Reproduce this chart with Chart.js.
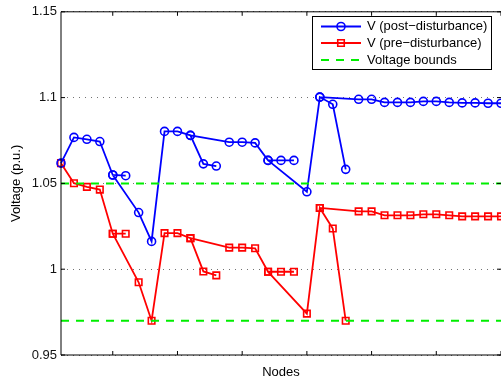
<!DOCTYPE html>
<html>
<head>
<meta charset="utf-8">
<script src="https://cdn.jsdelivr.net/npm/chart.js@4/dist/chart.umd.min.js"></script>
<style>
html,body{margin:0;padding:0;background:#fff;overflow:hidden;}
#wrap{width:501px;height:383px;position:relative;}
</style>
</head>
<body>
<div id="wrap"><canvas id="c" width="501" height="383"></canvas></div>
<script>
// ---- data ----
const nodes = [1,2,3,4,5,6,7,8,9,10,11,12,13,14,15,16,17,18,19,20,21,22,23,24,25,26,27,28,29,30,31,32,33,34,35];
const vPost = [1.0618,1.0768,1.0757,1.0744,1.0549,1.0545,1.0330,1.0162,1.0803,1.0803,1.0780,1.0614,1.0601,1.0740,1.0740,1.0736,1.0634,1.0634,1.0634,1.0451,1.1003,1.0961,1.0582,1.0990,1.0990,1.0972,1.0972,1.0972,1.0978,1.0978,1.0972,1.0969,1.0969,1.0967,1.0967];
const vPre  = [1.0618,1.0501,1.0480,1.0464,1.0207,1.0207,0.9924,0.9700,1.0210,1.0210,1.0181,0.9987,0.9964,1.0126,1.0126,1.0122,0.9985,0.9985,0.9985,0.9741,1.0357,1.0237,0.9700,1.0337,1.0337,1.0314,1.0314,1.0314,1.0320,1.0320,1.0314,1.0308,1.0308,1.0308,1.0308];
// feeder branches (node paths) drawn as separate line pieces
const branches = [
  [1,2,3,4,5,6],
  [5,7,8,9,10,11,12,13],
  [11,14,15,16,17,18,19],
  [17,20,21,22,23],
  [21,24,25,26,27,28,29,30,31,32,33,34,35]
];
const vBounds = [1.05, 0.97];
const xRange = [1, 35];
const xTickValues = [5,10,15,20,25,30,35];
const yTickValues = [0.95,1.0,1.05,1.1,1.15];
const seriesLabels = ['V (post\u2212disturbance)','V (pre\u2212disturbance)','Voltage bounds'];

function buildPath(values){
  const out = [];
  branches.forEach((br, bi) => {
    if (bi > 0) out.push({x: nodes[br[0]-1], y: null});
    br.forEach(n => out.push({x: nodes[n-1], y: values[n-1]}));
  });
  return out;
}
function buildBounds(){
  const out = [];
  vBounds.forEach((b, i) => {
    if (i > 0) out.push({x: xRange[1], y: null});
    out.push({x: xRange[0], y: b});
    out.push({x: xRange[1], y: b});
  });
  return out;
}

const FONT = 'Liberation Sans, Arial, Helvetica, sans-serif';

const framePlugin = {
  id: 'frame',
  afterDatasetsDraw(chart){
    const {ctx, chartArea:{left,right,top,bottom}, scales:{x,y}} = chart;
    ctx.save();
    ctx.strokeStyle = '#000';
    ctx.lineWidth = 1;
    ctx.setLineDash([]);
    ctx.beginPath();
    ctx.moveTo(left, top); ctx.lineTo(right + 1, top);
    ctx.moveTo(left, top); ctx.lineTo(left, bottom);
    ctx.moveTo(left, bottom); ctx.lineTo(right + 1, bottom);
    ctx.moveTo(right + 1, top); ctx.lineTo(right + 1, bottom);
    const tl = 4;
    x.ticks.forEach(t => {
      const px = x.getPixelForValue(t.value);
      ctx.moveTo(px, bottom); ctx.lineTo(px, bottom - tl);
      ctx.moveTo(px, top); ctx.lineTo(px, top + tl);
    });
    y.ticks.forEach(t => {
      const py = y.getPixelForValue(t.value);
      ctx.moveTo(left, py); ctx.lineTo(left + tl, py);
      ctx.moveTo(right + 1, py); ctx.lineTo(right - tl, py);
    });
    ctx.stroke();
    ctx.restore();
  }
};

const legendPlugin = {
  id: 'boxLegend',
  afterDraw(chart){
    const ctx = chart.ctx;
    const bx = 312.5, by = 16.5, bw = 179, bh = 53;
    ctx.save();
    ctx.fillStyle = '#fff';
    ctx.fillRect(bx, by, bw, bh);
    ctx.strokeStyle = '#000';
    ctx.lineWidth = 1;
    ctx.setLineDash([]);
    ctx.strokeRect(bx, by, bw, bh);
    const rows = [26.5, 43, 60];
    chart.data.datasets.forEach((ds, i) => {
      const yy = rows[i];
      ctx.save();
      ctx.strokeStyle = ds.borderColor;
      ctx.lineWidth = ds.borderWidth;
      ctx.setLineDash(ds.borderDash || []);
      ctx.beginPath();
      ctx.moveTo(321, yy); ctx.lineTo(361, yy);
      ctx.stroke();
      ctx.setLineDash([]);
      if (ds.pointRadius > 0) {
        ctx.lineWidth = ds.pointBorderWidth;
        ctx.strokeStyle = ds.pointBorderColor;
        ctx.beginPath();
        if (ds.pointStyle === 'rect') {
          const s = ds.pointRadius * Math.SQRT1_2;
          ctx.rect(341 - s, yy - s, 2*s, 2*s);
        } else {
          ctx.arc(341, yy, ds.pointRadius, 0, Math.PI*2);
        }
        ctx.stroke();
      }
      ctx.restore();
      ctx.fillStyle = '#000';
      ctx.font = '13px ' + FONT;
      ctx.textBaseline = 'middle';
      ctx.textAlign = 'left';
      ctx.fillText(ds.label, 367, yy);
    });
    ctx.restore();
  }
};

new Chart(document.getElementById('c'), {
  type: 'line',
  data: {
    datasets: [
      {
        label: seriesLabels[0],
        data: buildPath(vPost),
        borderColor: '#0000ff',
        borderWidth: 1.8,
        pointStyle: 'circle',
        pointRadius: 4,
        pointBorderWidth: 1.6,
        pointBorderColor: '#0000ff',
        pointBackgroundColor: 'rgba(0,0,0,0)',
        spanGaps: false,
        clip: false,
        order: 1
      },
      {
        label: seriesLabels[1],
        data: buildPath(vPre),
        borderColor: '#ff0000',
        borderWidth: 1.8,
        pointStyle: 'rect',
        pointRadius: 4.6,
        pointBorderWidth: 1.6,
        pointBorderColor: '#ff0000',
        pointBackgroundColor: 'rgba(0,0,0,0)',
        spanGaps: false,
        clip: false,
        order: 2
      },
      {
        label: seriesLabels[2],
        data: buildBounds(),
        borderColor: '#00ee00',
        borderWidth: 2,
        borderDash: [8, 7],
        pointRadius: 0,
        spanGaps: false,
        order: 0
      }
    ]
  },
  options: {
    responsive: false,
    animation: false,
    devicePixelRatio: 1,
    layout: {autoPadding: false, padding: {top: 9, left: 0, right: 0, bottom: 0}},
    elements: {line: {tension: 0}},
    plugins: {legend: {display: false}, tooltip: {enabled: false}},
    scales: {
      x: {
        type: 'linear',
        min: xRange[0], max: xRange[1],
        afterBuildTicks: s => { s.ticks = xTickValues.map(v => ({value: v})); },
        afterFit: s => { s.height = 28; },
        ticks: {display: false},
        grid: {display: false, drawTicks: false},
        border: {display: false},
        title: {display: true, text: 'Nodes', color: '#000', font: {family: FONT, size: 13}, padding: {top: 0, bottom: 3}}
      },
      y: {
        type: 'linear',
        min: 0.95, max: 1.15,
        afterBuildTicks: s => { s.ticks = yTickValues.map(v => ({value: v})); },
        afterFit: s => { s.width = 61; },
        ticks: {
          color: '#111', padding: 4, font: {family: FONT, size: 13},
          callback: v => String(Math.round(v*100)/100)
        },
        grid: {display: true, drawTicks: false, color: 'rgba(0,0,0,0.55)', lineWidth: 1},
        border: {display: false, dash: [1, 5]},
        title: {display: true, text: 'Voltage (p.u.)', color: '#000', font: {family: FONT, size: 13}, padding: {top: 9, bottom: 0}}
      }
    }
  },
  plugins: [framePlugin, legendPlugin]
});
</script>
</body>
</html>
